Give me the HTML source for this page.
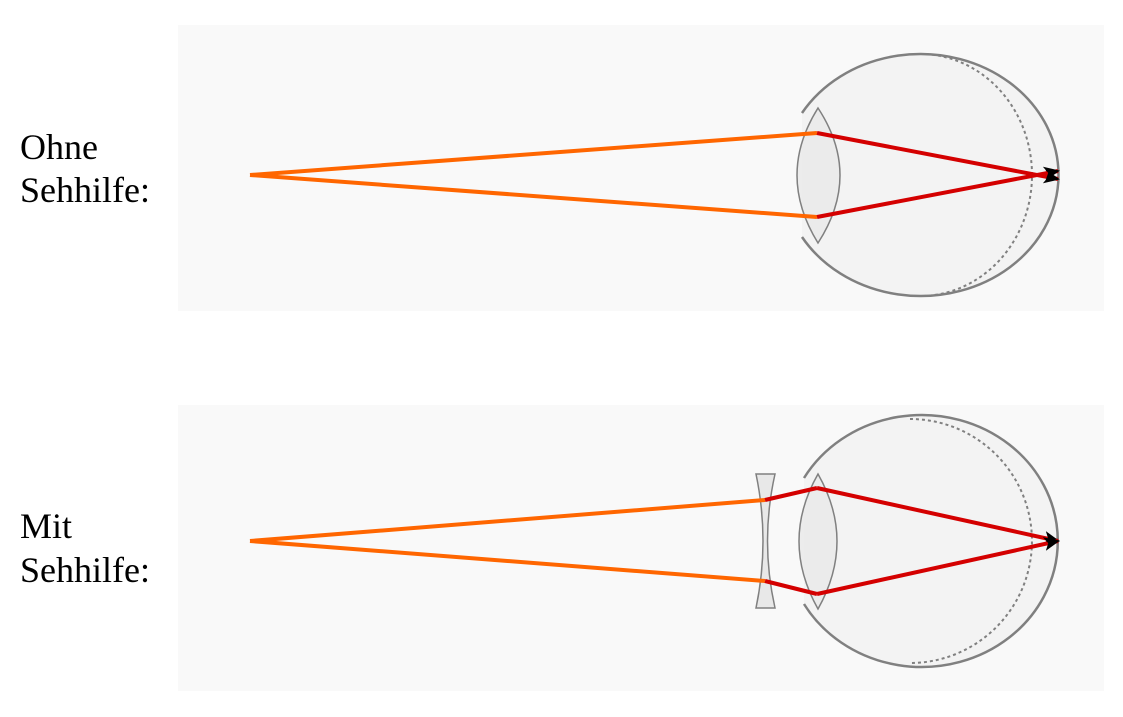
<!DOCTYPE html>
<html><head><meta charset="utf-8"><style>
html,body{margin:0;padding:0;background:#fff;}
svg{display:block;}
text{font-family:"Liberation Serif",serif;font-size:36px;fill:#000;}
</style></head><body>
<svg width="1123" height="717" viewBox="0 0 1123 717">
<defs>
<marker id="ah" markerWidth="16" markerHeight="14" refX="14" refY="7" orient="auto" markerUnits="userSpaceOnUse" viewBox="0 0 16 14">
<path d="M0,0 L16,7 L0,14 L4,7 z" fill="#000"/>
</marker>
</defs>

<g>
<rect x="178" y="25" width="926" height="286" fill="#f9f9f9"/>
<text x="20" y="159">Ohne</text>
<text x="20" y="202">Sehhilfe:</text>
<path d="M802,113 A138,121 0 1 1 802,237 Z" fill="#f3f3f3" stroke="none"/>
<path d="M802,113 A138,121 0 1 1 802,237" fill="none" stroke="#808080" stroke-width="2.5"/>
<path d="M920,54 A112,121 0 0 1 920,296" fill="none" stroke="#808080" stroke-width="2" stroke-dasharray="3,3"/>
<path d="M818,108 Q776,175 818,243 Q862,175 818,108 Z" fill="#e8e8e8" fill-opacity="0.8" stroke="#808080" stroke-width="1.5"/>
<line x1="250" y1="175" x2="817" y2="133" stroke="#ff6600" stroke-width="4"/>
<line x1="250" y1="175" x2="817" y2="217" stroke="#ff6600" stroke-width="4"/>
<line x1="817" y1="133" x2="1058" y2="179" stroke="#d40000" stroke-width="4" marker-end="url(#ah)"/>
<line x1="817" y1="217" x2="1058" y2="171" stroke="#d40000" stroke-width="4" marker-end="url(#ah)"/>
</g>

<g>
<rect x="178" y="405" width="926" height="286" fill="#f9f9f9"/>
<text x="20" y="538">Mit</text>
<text x="20" y="582">Sehhilfe:</text>
<path d="M804,478 A136,126 0 1 1 804,604 Z" fill="#f3f3f3" stroke="none"/>
<path d="M804,478 A136,126 0 1 1 804,604" fill="none" stroke="#808080" stroke-width="2.5"/>
<path d="M910,419 A122,122 0 0 1 910,663" fill="none" stroke="#808080" stroke-width="2" stroke-dasharray="3,3"/>
<path d="M818,474 Q780,541 818,609 Q856,541 818,474 Z" fill="#e8e8e8" fill-opacity="0.8" stroke="#808080" stroke-width="1.5"/>
<path d="M756,474 L775,474 Q760,541 775,608 L756,608 Q770,541 756,474 Z" fill="#e8e8e8" stroke="#808080" stroke-width="1.5"/>
<line x1="250" y1="541" x2="765" y2="500" stroke="#ff6600" stroke-width="4"/>
<line x1="250" y1="541" x2="765" y2="581" stroke="#ff6600" stroke-width="4"/>
<line x1="765" y1="500" x2="817" y2="488" stroke="#d40000" stroke-width="4"/>
<line x1="765" y1="581" x2="817" y2="594" stroke="#d40000" stroke-width="4"/>
<line x1="817" y1="488" x2="1058" y2="541" stroke="#d40000" stroke-width="4" marker-end="url(#ah)"/>
<line x1="817" y1="594" x2="1058" y2="541" stroke="#d40000" stroke-width="4" marker-end="url(#ah)"/>
</g>
</svg>
</body></html>
